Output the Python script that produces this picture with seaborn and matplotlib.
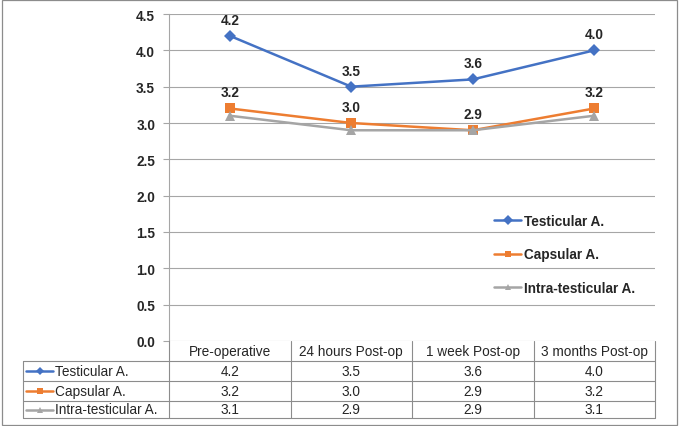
import pandas as pd
import seaborn as sns
import matplotlib.pyplot as plt
from matplotlib.patches import Rectangle
from matplotlib.lines import Line2D

# data
periods = ['Pre-operative', '24 hours Post-op', '1 week Post-op', '3 months Post-op']
series_names = ['Testicular A.', 'Capsular A.', 'Intra-testicular A.']
testicular = [4.2, 3.5, 3.6, 4.0]
capsular = [3.2, 3.0, 2.9, 3.2]
intra_testicular = [3.1, 2.9, 2.9, 3.1]
y_ticks = [0.0, 0.5, 1.0, 1.5, 2.0, 2.5, 3.0, 3.5, 4.0, 4.5]

colors = ['#4472C4', '#ED7D31', '#A5A5A5']
markers = ['D', 's', '^']
values = [testicular, capsular, intra_testicular]

rows = []
for name, vals in zip(series_names, values):
    for p, v in zip(periods, vals):
        rows.append({'period': p, 'value': v, 'series': name})
df = pd.DataFrame(rows)

sns.set_style('white')
plt.rcParams['font.family'] = ['Liberation Sans', 'DejaVu Sans']
fs = 9.8

W, H = 682, 427
fig = plt.figure(figsize=(W / 100, H / 100), dpi=100)
ax_l, ax_r, ax_b, ax_t = 169, 655, 342, 15
ax = fig.add_axes([ax_l / W, (H - ax_b) / H, (ax_r - ax_l) / W, (ax_b - ax_t) / H])

sns.lineplot(data=df, x='period', y='value', hue='series', style='series',
             palette=colors, markers=markers, dashes=False, linewidth=1.8,
             markersize=6.5, markeredgewidth=0, ax=ax)

ax.set_xlim(-0.5, 3.5)
ax.set_ylim(0, 4.5)
ax.set_yticks(y_ticks)
ax.set_yticklabels([f'{t:.1f}' for t in y_ticks], fontsize=fs, fontweight='bold')
ax.set_xticks([])
ax.set_xlabel('')
ax.set_ylabel('')
ax.grid(axis='y', color='#A6A6A6', linewidth=0.8)
ax.set_axisbelow(True)
for s in ['top', 'right', 'bottom']:
    ax.spines[s].set_visible(False)
ax.spines['left'].set_color('#A6A6A6')
ax.spines['left'].set_linewidth(0.8)
ax.tick_params(axis='y', left=True, length=4, color='#A6A6A6', pad=6)

# data labels for the first two series
for vals in [testicular, capsular]:
    for i, v in enumerate(vals):
        ax.annotate(f'{v:.1f}', (i, v), xytext=(0, 11.5), textcoords='offset points',
                    ha='center', va='center', fontsize=fs, fontweight='bold')

# legend inside the plot
handles = [Line2D([0], [0], color=c, marker=m, markersize=5, lw=1.8, markeredgewidth=0)
           for c, m in zip(colors, markers)]
ax.legend(handles, series_names, loc='upper left', bbox_to_anchor=(0.655, 0.41),
          frameon=False, labelspacing=1.45, handlelength=2.0,
          handletextpad=0.2, borderpad=0, prop={'weight': 'bold', 'size': fs})


# data table under the plot
def fx(px):
    return px / W


def fy(py):
    return (H - py) / H


grid_c = '#8C8C8C'
col_edges = [169, 290.5, 412, 533.5, 655]
row_edges = [342, 362, 382, 402, 419]
lab_left = 23

for x in col_edges:
    fig.add_artist(Line2D([fx(x), fx(x)], [fy(342), fy(419)], color=grid_c, lw=0.8))
fig.add_artist(Line2D([fx(lab_left), fx(lab_left)], [fy(362), fy(419)], color=grid_c, lw=0.8))
for y in row_edges[1:]:
    fig.add_artist(Line2D([fx(lab_left), fx(655)], [fy(y), fy(y)], color=grid_c, lw=0.8))

for j, p in enumerate(periods):
    cx = (col_edges[j] + col_edges[j + 1]) / 2
    fig.text(fx(cx), fy(352.5), p, ha='center', va='center', fontsize=fs)

for r, (name, vals, c, m) in enumerate(zip(series_names, values, colors, markers)):
    cy = (row_edges[r + 1] + row_edges[r + 2]) / 2
    fig.add_artist(Line2D([fx(26), fx(53)], [fy(cy), fy(cy)], color=c, lw=1.8))
    fig.add_artist(Line2D([fx(39.5)], [fy(cy)], color=c, marker=m, markersize=4.5,
                          markeredgewidth=0))
    fig.text(fx(55), fy(cy), name, ha='left', va='center', fontsize=fs)
    for j, v in enumerate(vals):
        cx = (col_edges[j] + col_edges[j + 1]) / 2
        fig.text(fx(cx), fy(cy), f'{v:.1f}', ha='center', va='center', fontsize=fs)

# chart border
fig.add_artist(Rectangle((fx(2), fy(425.5)), fx(677) - fx(2), fy(0.5) - fy(425.5),
                         fill=False, edgecolor='#8C8C8C', lw=0.9))

fig.savefig('out.png', dpi=100)
